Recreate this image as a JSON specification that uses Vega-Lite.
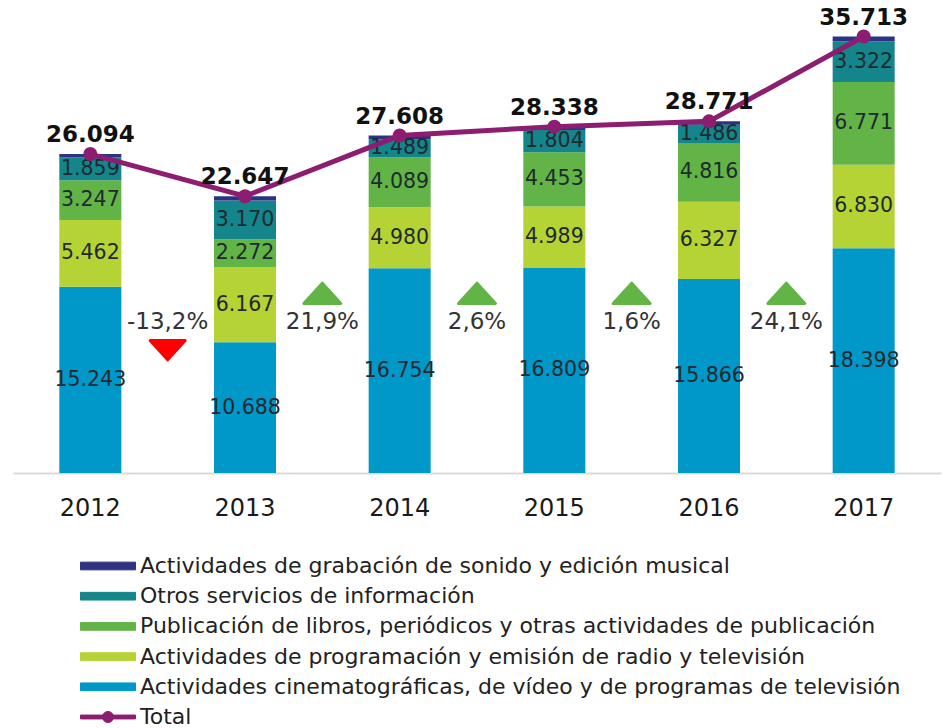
{
  "$schema": "https://vega.github.io/schema/vega-lite/v6.json",
  "autosize": "none",
  "width": 928,
  "height": 440,
  "padding": {"left": 13, "top": 33, "right": 3, "bottom": 255},
  "background": "white",
  "config": {
    "view": {"stroke": null},
    "font": "DejaVu Sans",
    "locale": {"number": {"decimal": ",", "thousands": ".", "grouping": [3], "currency": ["", " €"], "minus": "-"}}
  },
  "datasets": {
    "segmentos": [
      {"x": "2012", "serie": "Actividades cinematográficas, de vídeo y de programas de televisión", "orden": 1, "valor": 15243},
      {"x": "2012", "serie": "Actividades de programación y emisión de radio y televisión", "orden": 2, "valor": 5462},
      {"x": "2012", "serie": "Publicación de libros, periódicos y otras actividades de publicación", "orden": 3, "valor": 3247},
      {"x": "2012", "serie": "Otros servicios de información", "orden": 4, "valor": 1859},
      {"x": "2012", "serie": "Actividades de grabación de sonido y edición musical", "orden": 5, "valor": 283},
      {"x": "2013", "serie": "Actividades cinematográficas, de vídeo y de programas de televisión", "orden": 1, "valor": 10688},
      {"x": "2013", "serie": "Actividades de programación y emisión de radio y televisión", "orden": 2, "valor": 6167},
      {"x": "2013", "serie": "Publicación de libros, periódicos y otras actividades de publicación", "orden": 3, "valor": 2272},
      {"x": "2013", "serie": "Otros servicios de información", "orden": 4, "valor": 3170},
      {"x": "2013", "serie": "Actividades de grabación de sonido y edición musical", "orden": 5, "valor": 350},
      {"x": "2014", "serie": "Actividades cinematográficas, de vídeo y de programas de televisión", "orden": 1, "valor": 16754},
      {"x": "2014", "serie": "Actividades de programación y emisión de radio y televisión", "orden": 2, "valor": 4980},
      {"x": "2014", "serie": "Publicación de libros, periódicos y otras actividades de publicación", "orden": 3, "valor": 4089},
      {"x": "2014", "serie": "Otros servicios de información", "orden": 4, "valor": 1489},
      {"x": "2014", "serie": "Actividades de grabación de sonido y edición musical", "orden": 5, "valor": 296},
      {"x": "2015", "serie": "Actividades cinematográficas, de vídeo y de programas de televisión", "orden": 1, "valor": 16809},
      {"x": "2015", "serie": "Actividades de programación y emisión de radio y televisión", "orden": 2, "valor": 4989},
      {"x": "2015", "serie": "Publicación de libros, periódicos y otras actividades de publicación", "orden": 3, "valor": 4453},
      {"x": "2015", "serie": "Otros servicios de información", "orden": 4, "valor": 1804},
      {"x": "2015", "serie": "Actividades de grabación de sonido y edición musical", "orden": 5, "valor": 283},
      {"x": "2016", "serie": "Actividades cinematográficas, de vídeo y de programas de televisión", "orden": 1, "valor": 15866},
      {"x": "2016", "serie": "Actividades de programación y emisión de radio y televisión", "orden": 2, "valor": 6327},
      {"x": "2016", "serie": "Publicación de libros, periódicos y otras actividades de publicación", "orden": 3, "valor": 4816},
      {"x": "2016", "serie": "Otros servicios de información", "orden": 4, "valor": 1486},
      {"x": "2016", "serie": "Actividades de grabación de sonido y edición musical", "orden": 5, "valor": 276},
      {"x": "2017", "serie": "Actividades cinematográficas, de vídeo y de programas de televisión", "orden": 1, "valor": 18398},
      {"x": "2017", "serie": "Actividades de programación y emisión de radio y televisión", "orden": 2, "valor": 6830},
      {"x": "2017", "serie": "Publicación de libros, periódicos y otras actividades de publicación", "orden": 3, "valor": 6771},
      {"x": "2017", "serie": "Otros servicios de información", "orden": 4, "valor": 3322},
      {"x": "2017", "serie": "Actividades de grabación de sonido y edición musical", "orden": 5, "valor": 392}
    ],
    "totales": [
      {"x": "2012", "total": 26094},
      {"x": "2013", "total": 22647},
      {"x": "2014", "total": 27608},
      {"x": "2015", "total": 28338},
      {"x": "2016", "total": 28771},
      {"x": "2017", "total": 35713}
    ],
    "cambios": [
      {"x": "2012-2013", "pct": -0.132},
      {"x": "2013-2014", "pct": 0.219},
      {"x": "2014-2015", "pct": 0.026},
      {"x": "2015-2016", "pct": 0.016},
      {"x": "2016-2017", "pct": 0.241}
    ]
  },
  "encoding": {
    "x": {
      "field": "x",
      "type": "nominal",
      "sort": null,
      "scale": {
        "domain": ["2012", "2012-2013", "2013", "2013-2014", "2014", "2014-2015", "2015", "2015-2016", "2016", "2016-2017", "2017"],
        "paddingInner": 0.198,
        "paddingOuter": 0.599
      },
      "axis": {
        "title": null,
        "values": ["2012", "2013", "2014", "2015", "2016", "2017"],
        "labelAngle": 0,
        "ticks": false,
        "labelPadding": 23,
        "labelFontSize": 24,
        "labelColor": "#1a1a1a",
        "labelFont": "DejaVu Sans",
        "domainColor": "#d9d9d9",
        "domainWidth": 2
      }
    }
  },
  "layer": [
    {
      "data": {"name": "segmentos"},
      "mark": {"type": "bar"},
      "encoding": {
        "y": {"field": "valor", "type": "quantitative", "stack": "zero", "scale": {"domain": [0, 36000], "nice": false}, "axis": null},
        "color": {
          "field": "serie",
          "type": "nominal",
          "scale": {
            "domain": [
              "Actividades de grabación de sonido y edición musical",
              "Otros servicios de información",
              "Publicación de libros, periódicos y otras actividades de publicación",
              "Actividades de programación y emisión de radio y televisión",
              "Actividades cinematográficas, de vídeo y de programas de televisión",
              "Total"
            ],
            "range": ["#2d3282", "#14858a", "#63b446", "#b6d335", "#0097c9", "#8c1d70"]
          },
          "legend": {
            "title": null,
            "orient": "none",
            "legendX": 67,
            "legendY": 523,
            "padding": 0,
            "symbolType": "M-1,-0.14H1V0.14H-1Z",
            "symbolSize": 3025,
            "symbolStrokeWidth": 1,
            "clipHeight": 20,
            "rowPadding": 8.2,
            "labelOffset": 4,
            "labelFontSize": 22,
            "labelFont": "DejaVu Sans",
            "labelColor": "#222222",
            "labelLimit": 900,
            "symbolOpacity": 1,
            "encode": {
              "symbols": {
                "update": {
                  "shape": {"signal": "datum.value === 'Total' ? 'M-1,-0.07H1V0.07H-1ZM-0.2,0A0.2,0.2 0 1,1 0.2,0A0.2,0.2 0 1,1 -0.2,0Z' : 'M-1,-0.14H1V0.14H-1Z'"},
                  "size": {"value": 3025},
                  "fill": {"scale": "color", "field": "value"},
                  "stroke": {"scale": "color", "field": "value"},
                  "opacity": {"value": 1}
                }
              }
            }
          }
        },
        "order": {"field": "orden", "type": "quantitative", "sort": "ascending"}
      }
    },
    {
      "data": {"name": "segmentos"},
      "transform": [{"filter": "datum.orden < 5"}],
      "mark": {"type": "text", "fontSize": 20.5, "color": "#1f2a30", "baseline": "middle", "align": "center"},
      "encoding": {
        "y": {"field": "valor", "type": "quantitative", "stack": "zero", "bandPosition": 0.5},
        "detail": {"field": "serie"},
        "order": {"field": "orden", "type": "quantitative", "sort": "ascending"},
        "text": {"field": "valor", "type": "quantitative", "format": ",d"}
      }
    },
    {
      "data": {"name": "totales"},
      "mark": {"type": "line", "strokeWidth": 5, "point": {"size": 196, "filled": true, "opacity": 1}},
      "encoding": {
        "y": {"field": "total", "type": "quantitative"},
        "color": {"datum": "Total"}
      }
    },
    {
      "data": {"name": "totales"},
      "mark": {"type": "text", "fontSize": 23, "fontWeight": "bold", "color": "#111111", "baseline": "alphabetic", "align": "center", "dy": -12},
      "encoding": {
        "y": {"field": "total", "type": "quantitative"},
        "text": {"field": "total", "type": "quantitative", "format": ",d"}
      }
    },
    {
      "data": {"name": "cambios"},
      "mark": {"type": "text", "fontSize": 23, "color": "#333333", "baseline": "middle", "align": "center"},
      "encoding": {
        "y": {"datum": 12350},
        "text": {"field": "pct", "type": "quantitative", "format": ".1%"}
      }
    },
    {
      "data": {"name": "cambios"},
      "transform": [{"filter": "datum.pct > 0"}],
      "mark": {"type": "point", "shape": "M0,-0.55L1,0.55L-1,0.55Z", "size": 1369, "filled": true, "color": "#62b446", "opacity": 1, "stroke": "#62b446", "strokeWidth": 3, "strokeJoin": "round"},
      "encoding": {
        "y": {"datum": 14700}
      }
    },
    {
      "data": {"name": "cambios"},
      "transform": [{"filter": "datum.pct < 0"}],
      "mark": {"type": "point", "shape": "M0,0.55L1,-0.55L-1,-0.55Z", "size": 1225, "filled": true, "color": "#ff0000", "opacity": 1, "stroke": "#ff0000", "strokeWidth": 3, "strokeJoin": "round"},
      "encoding": {
        "y": {"datum": 10050}
      }
    }
  ]
}
